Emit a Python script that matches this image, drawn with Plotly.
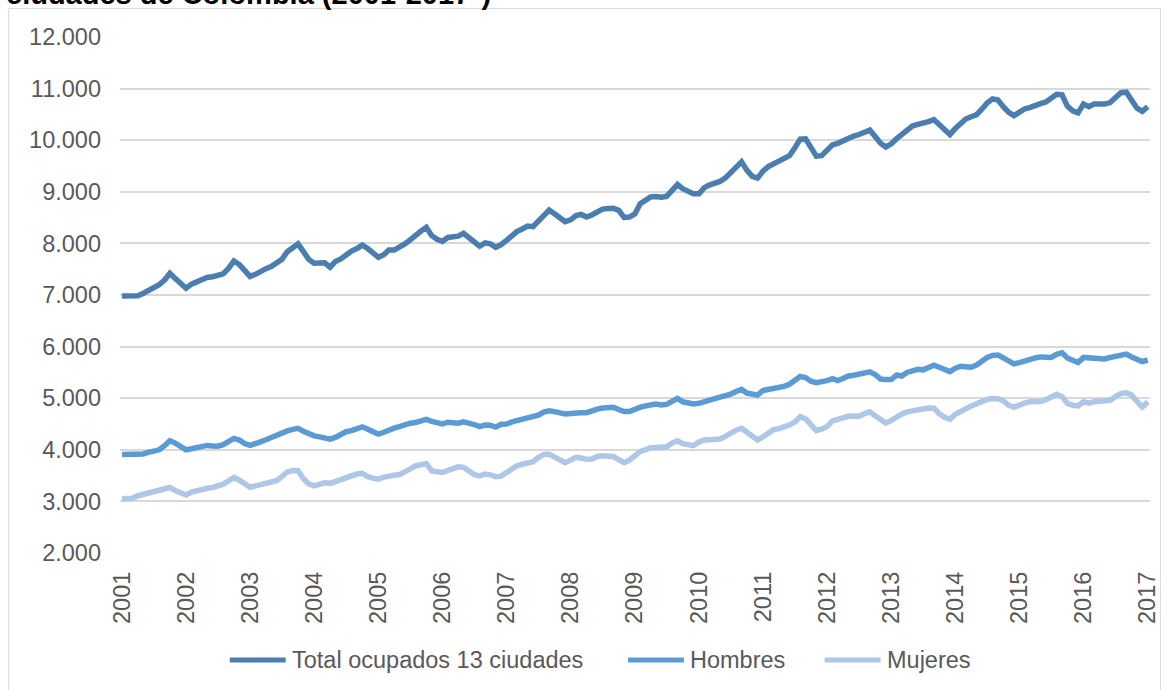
import pandas as pd
import plotly.graph_objects as go

# Monthly employed population (thousands), 13 main cities, Jan 2001 - Jan 2017
months = pd.date_range("2001-01-01", periods=193, freq="MS")

total_ocupados = [
    6980, 6985, 6975, 6985, 7030, 7080, 7130, 7200, 7290, 7420, 7320, 7230,
    7130, 7210, 7260, 7310, 7340, 7355, 7375, 7410, 7520, 7660, 7590, 7470,
    7360, 7400, 7460, 7510, 7550, 7610, 7690, 7840, 7930, 7990, 7840, 7690,
    7615, 7620, 7625, 7540, 7650, 7700, 7790, 7850, 7900, 7970, 7900, 7800,
    7730, 7780, 7870, 7870, 7920, 7990, 8070, 8170, 8240, 8310, 8150, 8080,
    8040, 8115, 8125, 8140, 8195, 8100, 8010, 7945, 8010, 7990, 7925, 7975,
    8060, 8165, 8230, 8280, 8335, 8325, 8430, 8550, 8645, 8575, 8490, 8420,
    8455, 8540, 8560, 8510, 8550, 8610, 8665, 8675, 8680, 8640, 8505, 8510,
    8570, 8770, 8840, 8900, 8910, 8895, 8910, 9020, 9140, 9060, 9000, 8960,
    8960, 9080, 9130, 9160, 9200, 9270, 9380, 9470, 9580, 9420, 9300, 9265,
    9400, 9490, 9545, 9600, 9650, 9700, 9850, 10020, 10025, 9840, 9690, 9700,
    9800, 9910, 9940, 9990, 10055, 10080, 10110, 10160, 10195, 10070, 9940, 9870,
    9930, 10030, 10110, 10210, 10275, 10305, 10325, 10360, 10400, 10300, 10190, 10110,
    10230, 10330, 10410, 10455, 10490, 10600, 10720, 10800, 10780, 10650, 10540, 10475,
    10540, 10610, 10630, 10680, 10710, 10740, 10800, 10890, 10880, 10660, 10570, 10530,
    10700, 10650, 10700, 10690, 10700, 10730, 10830, 10920, 10930, 10760, 10620, 10560,
    10650,
]

hombres = [
    3910, 3915, 3915, 3900, 3920, 3950, 3970, 4000, 4080, 4175, 4130, 4060,
    4000, 4020, 4045, 4070, 4085, 4075, 4070, 4100, 4160, 4220, 4190, 4120,
    4085, 4110, 4155, 4195, 4240, 4280, 4320, 4365, 4395, 4415, 4360, 4310,
    4270, 4250, 4215, 4205, 4240, 4300, 4350, 4370, 4400, 4445, 4400, 4350,
    4305, 4340, 4385, 4420, 4450, 4495, 4515, 4530, 4570, 4590, 4550, 4520,
    4500, 4535, 4530, 4515, 4540, 4520, 4490, 4450, 4480, 4475, 4440, 4495,
    4500, 4540, 4560, 4600, 4630, 4630, 4670, 4730, 4755, 4740, 4715, 4695,
    4705, 4720, 4720, 4720, 4760, 4790, 4810, 4820, 4825, 4780, 4740, 4740,
    4790, 4825, 4850, 4880, 4885, 4870, 4880, 4940, 4995, 4930, 4905, 4890,
    4900, 4940, 4965, 4990, 5020, 5045, 5080, 5130, 5170, 5100, 5070, 5060,
    5150, 5165, 5185, 5200, 5230, 5270, 5340, 5420, 5400, 5330, 5300, 5310,
    5340, 5380, 5340, 5380, 5430, 5445, 5465, 5490, 5510, 5460, 5370, 5360,
    5360, 5450, 5430, 5500, 5540, 5560, 5550, 5600, 5640, 5600, 5550, 5515,
    5580, 5620, 5610, 5600, 5640, 5720, 5790, 5830, 5835, 5780, 5710, 5665,
    5690, 5730, 5745, 5780, 5800, 5795, 5790, 5850, 5880, 5780, 5730, 5690,
    5790, 5780, 5790, 5760, 5760, 5790, 5815, 5840, 5855, 5800, 5740, 5710,
    5740,
]

mujeres = [
    3050, 3055, 3060, 3110, 3140, 3155, 3185, 3210, 3240, 3270, 3210, 3170,
    3125, 3180, 3210, 3240, 3255, 3270, 3300, 3335, 3400, 3465, 3410, 3340,
    3275, 3300, 3320, 3340, 3365, 3400, 3480, 3570, 3600, 3595, 3440, 3340,
    3300, 3345, 3360, 3350, 3390, 3430, 3470, 3500, 3530, 3545, 3480, 3450,
    3430, 3470, 3495, 3505, 3520, 3565, 3630, 3690, 3725, 3735, 3590, 3570,
    3560, 3600, 3640, 3670, 3660, 3590, 3520, 3495, 3530, 3515, 3480, 3490,
    3560, 3650, 3690, 3720, 3735, 3770, 3850, 3910, 3915, 3870, 3800, 3750,
    3800, 3855, 3840, 3815, 3820, 3870, 3885, 3890, 3870, 3810, 3750, 3800,
    3880, 3970, 4000, 4040, 4045, 4040, 4060, 4130, 4175, 4120, 4095, 4080,
    4150, 4190, 4195, 4200, 4210, 4260, 4330, 4380, 4415, 4350, 4260, 4190,
    4250, 4320, 4390, 4410, 4440, 4480, 4540, 4640, 4600, 4470, 4370, 4400,
    4450, 4560, 4590, 4610, 4650, 4655, 4650, 4700, 4735, 4660, 4580, 4520,
    4570, 4640, 4690, 4735, 4760, 4785, 4785, 4810, 4805, 4700, 4630, 4590,
    4690, 4750, 4810, 4850, 4890, 4940, 4975, 4995, 4990, 4950, 4860, 4825,
    4880, 4910, 4930, 4935, 4935, 4970, 5010, 5075, 5030, 4900, 4860, 4850,
    4930, 4905, 4930, 4935, 4945, 4960, 5030, 5090, 5105, 5060, 4940, 4830,
    4930,
]

series_names = ["Total ocupados 13 ciudades", "Hombres", "Mujeres"]
series_colors = ["#4a7eb1", "#5b9bd5", "#aec6e7"]
series_values = [total_ocupados, hombres, mujeres]

year_ticks = pd.date_range("2001-01-01", "2017-01-01", freq="YS")
year_labels = [str(d.year) for d in year_ticks]

W, H = 1172, 690
ML, MR, MT, MB = 120, 20, 37, 137
PW, PH = W - ML - MR, H - MT - MB


def px_x(p):
    return (p - ML) / PW


def px_y(p):
    return (H - MB - p) / PH


fig = go.Figure()
for name, vals, col in zip(series_names, series_values, series_colors):
    fig.add_trace(go.Scatter(
        x=months, y=vals, name=name, mode="lines",
        line=dict(color=col, width=5.5), showlegend=False,
    ))

font_color = "#595959"
fig.update_layout(
    width=W, height=H,
    margin=dict(l=ML, r=MR, t=MT, b=MB),
    paper_bgcolor="white", plot_bgcolor="white",
    separators=",.",
    font=dict(family="Liberation Sans, Arial, sans-serif", color=font_color),
    xaxis=dict(
        range=[months[0] - pd.Timedelta(days=11), months[-1] + pd.Timedelta(days=13)],
        tickvals=year_ticks, ticktext=year_labels, tickangle=-90,
        tickfont=dict(size=23.5, color=font_color),
        showgrid=False, zeroline=False, showline=False, ticks="",
        ticklabelstandoff=13,
    ),
    yaxis=dict(
        range=[2000, 12000], dtick=1000, tickformat=",.0f",
        tickfont=dict(size=23.5, color=font_color),
        showgrid=True, gridcolor="#d9d9d9", gridwidth=1.5,
        zeroline=False, showline=False, ticks="",
        ticklabelstandoff=18,
    ),
)

shapes = [
    # outer chart frame
    dict(type="rect", xref="paper", yref="paper",
         x0=px_x(8.5), x1=px_x(1162.5), y0=px_y(720), y1=px_y(8.5),
         line=dict(color="#d9d9d9", width=1), fillcolor="rgba(0,0,0,0)", layer="below"),
]
annotations = [
    dict(text="<b>ciudades de Colombia (2001-2017*)</b>", xref="paper", yref="paper",
         x=px_x(4), y=px_y(12), xanchor="left", yanchor="bottom", showarrow=False,
         font=dict(size=29, color="black")),
]

# legend drawn along the bottom
legend_items = [(230, 286, 290), (629, 685, 689), (826, 882, 886)]
legend_y = 660
for (lx0, lx1, tx), name, col in zip(legend_items, series_names, series_colors):
    shapes.append(dict(type="line", xref="paper", yref="paper",
                       x0=px_x(lx0), x1=px_x(lx1), y0=px_y(legend_y), y1=px_y(legend_y),
                       line=dict(color=col, width=5)))
    annotations.append(dict(text=name, xref="paper", yref="paper",
                            x=px_x(tx), y=px_y(legend_y), xanchor="left", yanchor="middle",
                            showarrow=False, font=dict(size=23.5, color=font_color)))

fig.update_layout(shapes=shapes, annotations=annotations)
fig.write_html("out.html")
